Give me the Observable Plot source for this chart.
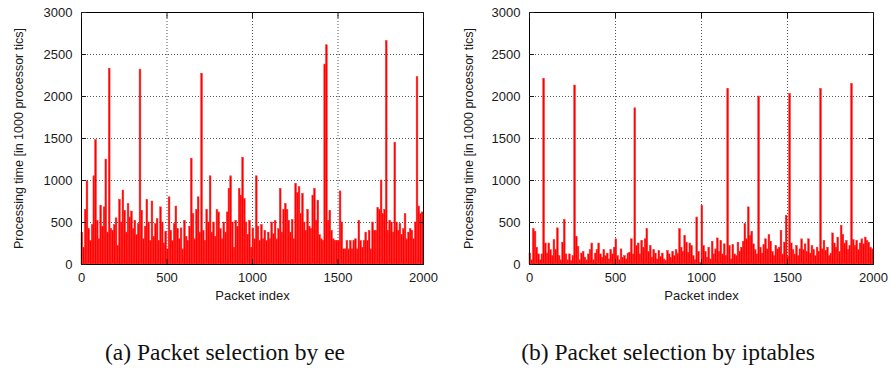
<!DOCTYPE html>
<html>
<head>
<meta charset="utf-8">
<script src="https://cdn.jsdelivr.net/npm/d3@7"></script>
<script src="https://cdn.jsdelivr.net/npm/@observablehq/plot@0.6"></script>
<style>
  body { margin: 0; background: #fff; }
  #wrap { position: relative; width: 891px; height: 369px; overflow: hidden; background: #fff; }
  #left { position: absolute; left: 0; top: 0; }
  #right { position: absolute; left: 445px; top: 0; }
  .cap { position: absolute; top: 338px; font-family: "Liberation Serif", "Times New Roman", serif; font-size: 23.5px; line-height: 28px; color: #111; text-align: center; white-space: nowrap; }
</style>
</head>
<body>
<div id="wrap">
  <div id="left"></div>
  <div id="right"></div>
  <div class="cap" id="capA" style="left:0; width:450px;">(a) Packet selection by ee</div>
  <div class="cap" id="capB" style="left:445px; width:446px;">(b) Packet selection by iptables</div>
</div>
<script>
// Packets are grouped in bins of this many packets; each value is the bin's processing time (in 1000 processor tics)
const binSize = 10;
const xTicks = [0, 500, 1000, 1500, 2000];
const yTicks = [0, 500, 1000, 1500, 2000, 2500, 3000];
const xLabel = "Packet index";
const yLabel = "Processing time [in 1000 processor tics]";

// (a) Packet selection by ee
const eeTimes = [
  380, 200, 650, 990, 420, 280, 470, 1050, 1480, 520,
  300, 700, 450, 680, 1250, 380, 2330, 420, 400, 470,
  550, 220, 770, 500, 880, 640, 380, 720, 560, 630,
  420, 520, 350, 480, 2320, 640, 300, 450, 770, 500,
  280, 750, 330, 480, 540, 280, 680, 500, 250, 390,
  180, 800, 400, 280, 480, 690, 420, 300, 430, 180,
  520, 330, 280, 450, 1260, 600, 300, 650, 800, 380,
  2270, 400, 280, 650, 500, 1050, 380, 500, 330, 650,
  620, 420, 300, 500, 380, 620, 900, 1050, 500, 200,
  520, 450, 900, 820, 1270, 780, 500, 350, 520, 200,
  430, 300, 1050, 450, 280, 470, 300, 400, 280, 380,
  300, 500, 360, 520, 300, 420, 900, 380, 650, 720,
  650, 520, 380, 530, 300, 960, 850, 920, 600, 840,
  500, 400, 650, 450, 420, 820, 900, 520, 760, 350,
  300, 280, 2380, 2610, 520, 640, 400, 300, 280, 280,
  280, 870, 500, 180, 180, 280, 180, 280, 180, 280,
  300, 180, 520, 280, 200, 280, 380, 280, 400, 180,
  500, 400, 400, 670, 650, 1000, 600, 650, 2660, 400,
  520, 500, 380, 1450, 500, 400, 480, 350, 420, 600,
  300, 380, 420, 400, 300, 500, 2230, 690, 600, 620
];

// (b) Packet selection by iptables
const iptablesTimes = [
  130, 50, 420, 390, 200, 120, 50, 120, 2210, 250,
  130, 250, 170, 100, 290, 170, 430, 100, 50, 260,
  530, 120, 50, 120, 40, 100, 2130, 330, 210, 50,
  130, 150, 80, 50, 120, 170, 250, 50, 130, 170,
  250, 120, 80, 170, 100, 130, 60, 170, 120, 200,
  300, 100, 50, 180, 80, 100, 60, 130, 140, 300,
  120, 1860, 220, 250, 120, 280, 200, 300, 420, 150,
  220, 80, 170, 130, 60, 160, 90, 130, 60, 40,
  160, 120, 80, 150, 100, 170, 130, 420, 200, 150,
  340, 260, 140, 250, 220, 100, 50, 560, 150, 20,
  700, 220, 150, 80, 200, 60, 270, 120, 180, 310,
  150, 280, 120, 240, 100, 2090, 220, 60, 230, 120,
  100, 260, 150, 200, 270, 480, 300, 680, 340, 390,
  240, 170, 120, 2000, 200, 130, 230, 300, 180, 350,
  270, 150, 100, 220, 180, 200, 400, 120, 260, 580,
  90, 2030, 250, 170, 120, 220, 100, 180, 300, 170,
  240, 150, 300, 130, 220, 170, 100, 200, 150, 2090,
  180, 280, 160, 200, 100, 130, 370, 250, 200, 320,
  150, 460, 350, 250, 280, 170, 220, 2150, 290, 220,
  280, 170, 250, 300, 240, 320, 280, 260, 200, 180
];

function panel(values, marginLeft, marginRight, width, yLabelDx) {
  const data = values.map((v, i) => ({start: i * binSize, end: (i + 1) * binSize, v}));
  const noLabels = () => "";
  const fmt = d3.format("d");
  return Plot.plot({
    width, height: 312,
    marginLeft, marginRight, marginTop: 12, marginBottom: 48,
    style: {fontFamily: "'Liberation Sans', Arial, sans-serif", fontSize: "13px", color: "#1a1a1a", background: "#fff", overflow: "visible"},
    x: {domain: [0, 2000], ticks: xTicks, label: null, tickFormat: fmt},
    y: {domain: [0, 3000], ticks: yTicks, label: null, tickFormat: fmt},
    marks: [
      Plot.gridX({ticks: xTicks, stroke: "#444", strokeOpacity: 0.9, strokeDasharray: "1,2"}),
      Plot.gridY({ticks: yTicks, stroke: "#444", strokeOpacity: 0.9, strokeDasharray: "1,2"}),
      Plot.rectY(data, {x1: "start", x2: "end", y: "v", fill: "#ff0000", stroke: "#ff2a2a", strokeWidth: 0.5}),
      Plot.frame({stroke: "#000", strokeWidth: 1}),
      Plot.axisY({ticks: yTicks, tickSize: 0, tickPadding: 9, label: null, tickFormat: fmt}),
      Plot.axisY({ticks: yTicks, anchor: "left", tickSize: -5, tickFormat: noLabels, label: null}),
      Plot.axisY({ticks: yTicks, anchor: "right", tickSize: -5, tickFormat: noLabels, label: null}),
      Plot.axisX({ticks: xTicks, tickSize: 0, tickPadding: 8, label: null, tickFormat: fmt}),
      Plot.axisX({ticks: xTicks, anchor: "bottom", tickSize: -5, tickFormat: noLabels, label: null}),
      Plot.axisX({ticks: xTicks, anchor: "top", tickSize: -5, tickFormat: noLabels, label: null}),
      Plot.text([xLabel], {frameAnchor: "bottom", dy: 35, fontSize: 13, fill: "#1a1a1a"}),
      Plot.text([yLabel], {frameAnchor: "left", textAnchor: "middle", rotate: -90, dx: yLabelDx, fontSize: 12.5, fill: "#1a1a1a"})
    ]
  });
}

document.getElementById("left").appendChild(panel(eeTimes, 81, 22, 445, -63));
document.getElementById("right").appendChild(panel(iptablesTimes, 84, 18, 446, -61));
</script>
</body>
</html>
